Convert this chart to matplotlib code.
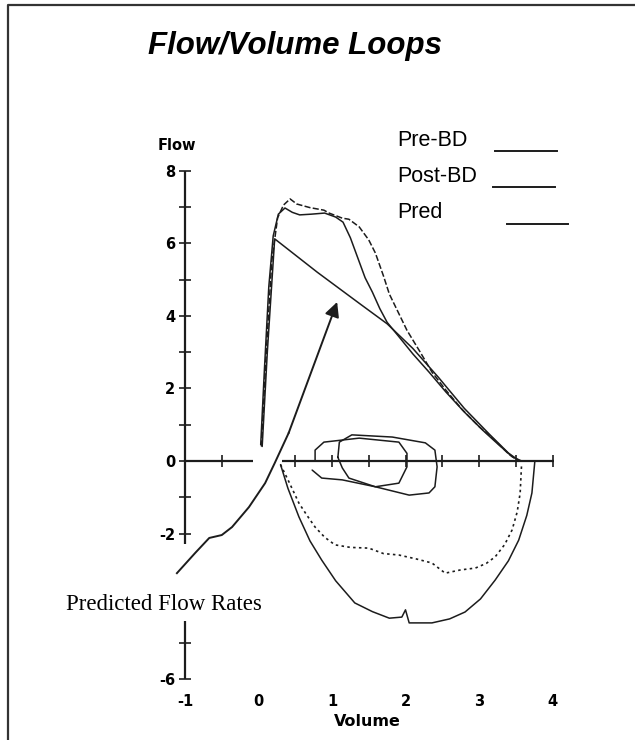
"""Flow/volume loops (pre- and post-bronchodilator against predicted)."""

import matplotlib

matplotlib.use("Agg")

import matplotlib.pyplot as plt
from matplotlib.lines import Line2D

W, H = 635, 740
INK = "#1c1c1c"

# expiratory limbs (volume L, flow L/s)
pre_exp_vol = [0.03, 0.08, 0.14, 0.20, 0.27, 0.36, 0.46, 0.56, 0.72, 0.90, 1.05, 1.15,
               1.25, 1.35, 1.45, 1.55, 1.65, 1.75, 1.90, 2.10, 2.32, 2.55, 2.80, 3.05,
               3.25, 3.45, 3.58]
pre_exp_flow = [0.45, 2.5, 4.8, 6.2, 6.8, 6.97, 6.85, 6.78, 6.80, 6.83, 6.72, 6.58,
                6.15, 5.60, 5.05, 4.65, 4.20, 3.82, 3.45, 2.95, 2.45, 1.90, 1.35, 0.85,
                0.48, 0.12, 0.0]

post_exp_vol = [0.04, 0.10, 0.18, 0.26, 0.34, 0.43, 0.52, 0.70, 0.89, 0.96, 1.14, 1.23,
                1.37, 1.50, 1.59, 1.70, 1.78, 1.90, 2.02, 2.20, 2.36, 2.55, 2.77, 3.00,
                3.20, 3.40, 3.52]
post_exp_flow = [0.40, 2.8, 5.5, 6.7, 7.05, 7.22, 7.08, 6.98, 6.91, 6.83, 6.69, 6.66,
                 6.45, 6.09, 5.73, 5.10, 4.60, 4.10, 3.60, 3.00, 2.45, 1.95, 1.42, 0.95,
                 0.60, 0.20, 0.02]

pred_vol = [0.05, 0.12, 0.22, 0.80, 1.40, 1.75, 2.10, 2.45, 2.80, 3.15, 3.40, 3.55]
pred_flow = [0.40, 3.0, 6.12, 5.20, 4.30, 3.78, 3.10, 2.30, 1.45, 0.72, 0.22, 0.0]

# inspiratory limbs
pre_insp_vol = [0.30, 0.40, 0.55, 0.70, 0.86, 1.05, 1.31, 1.55, 1.78, 1.95, 2.00, 2.05,
                2.36, 2.60, 2.81, 3.02, 3.22, 3.40, 3.54, 3.65, 3.72, 3.76]
pre_insp_flow = [-0.10, -0.75, -1.54, -2.20, -2.73, -3.30, -3.91, -4.15, -4.33, -4.30,
                 -4.10, -4.46, -4.46, -4.35, -4.16, -3.80, -3.28, -2.75, -2.18, -1.50,
                 -0.88, 0.0]

post_insp_vol = [0.30, 0.42, 0.55, 0.66, 0.77, 0.90, 1.04, 1.25, 1.50, 1.70, 1.91, 2.15,
                 2.36, 2.54, 2.75, 2.95, 3.10, 3.22, 3.35, 3.45, 3.52, 3.56, 3.58]
post_insp_flow = [-0.10, -0.60, -1.16, -1.50, -1.82, -2.10, -2.31, -2.38, -2.40, -2.55,
                  -2.59, -2.70, -2.81, -3.09, -3.00, -2.95, -2.82, -2.64, -2.30, -1.90,
                  -1.40, -0.88, -0.06]

# tidal breathing loops
tidal1_vol = [0.73, 0.86, 1.14, 1.59, 1.91, 2.02, 2.02, 1.91, 1.37, 0.89, 0.77, 0.77]
tidal1_flow = [-0.25, -0.47, -0.52, -0.71, -0.61, -0.16, 0.21, 0.52, 0.63, 0.52, 0.30, 0.0]
tidal2_vol = [1.08, 1.14, 1.23, 1.59, 2.05, 2.32, 2.40, 2.43, 2.40, 2.27, 1.82, 1.27, 1.10, 1.08]
tidal2_flow = [0.10, -0.19, -0.47, -0.71, -0.94, -0.88, -0.71, -0.16, 0.30, 0.50, 0.66,
               0.72, 0.52, 0.10]

# hand-drawn annotation arrow
arrow_vol = [-1.11, -0.86, -0.67, -0.50, -0.36, -0.13, 0.09, 0.22, 0.41, 1.07]
arrow_flow = [-3.09, -2.53, -2.12, -2.04, -1.82, -1.27, -0.61, -0.06, 0.77, 4.38]

y_major = [8, 6, 4, 2, 0, -2, -6]
y_minor = [7, 5, 3, 1, -1, -5]
x_ticks = [-0.5, 0.5, 1, 1.5, 2, 2.5, 3, 3.5, 4]
x_labels = [-1, 0, 1, 2, 3, 4]
legend_labels = ["Pre-BD", "Post-BD", "Pred"]


def fig_xy(px, py):
    return px / W, 1 - py / H


fig = plt.figure(figsize=(W / 100, H / 100), dpi=100)
fig.patch.set_facecolor("white")

# axes placed so that volume -1 sits at x=185px and flow 0 at y=461px
x_lo, x_hi, y_lo, y_hi = -2.0, 5.0, -6.1, 8.5
left = (185 + (x_lo + 1) * 73.5) / W
right = (185 + (x_hi + 1) * 73.5) / W
top = 1 - (461 - y_hi * 36.3) / H
bottom = 1 - (461 - y_lo * 36.3) / H
ax = fig.add_axes([left, bottom, right - left, top - bottom])
ax.set_xlim(x_lo, x_hi)
ax.set_ylim(y_lo, y_hi)
ax.patch.set_alpha(0)

line_kw = dict(color=INK, lw=1.1, solid_capstyle="round")
ax.plot(pre_exp_vol, pre_exp_flow, **line_kw)
ax.plot(pred_vol, pred_flow, **line_kw)
ax.plot(post_exp_vol, post_exp_flow, color=INK, lw=1.1, ls=(0, (4, 1.5)))
ax.plot(pre_insp_vol, pre_insp_flow, **line_kw)
ax.plot(post_insp_vol, post_insp_flow, color=INK, lw=1.2, ls=(0, (1.5, 2)))
ax.plot(tidal1_vol, tidal1_flow, **line_kw)
ax.plot(tidal2_vol, tidal2_flow, **line_kw)

ax.plot(arrow_vol[:-1], arrow_flow[:-1], color=INK, lw=1.4)
ax.annotate("", xy=(arrow_vol[-1], arrow_flow[-1]), xytext=(arrow_vol[-2], arrow_flow[-2]),
            arrowprops=dict(arrowstyle="-|>", color=INK, lw=1.4, mutation_scale=22,
                            shrinkA=0, shrinkB=0))

# broken axes as on the original printout
ax.vlines(-1, -2.3, 8.0, color=INK, lw=1.6)
ax.vlines(-1, -6.0, -4.4, color=INK, lw=1.6)
ax.hlines(0, -1.0, -0.08, color=INK, lw=1.6)
ax.hlines(0, 0.32, 4.02, color=INK, lw=1.6)

for side in ["top", "right"]:
    ax.spines[side].set_visible(False)
ax.spines["left"].set_position(("data", -1))
ax.spines["bottom"].set_position(("data", 0))
ax.spines["left"].set_color("none")
ax.spines["bottom"].set_color("none")

ax.set_yticks(y_major)
ax.set_yticks(y_minor, minor=True)
ax.set_yticklabels([str(v) for v in y_major], fontsize=10.5, fontweight="bold")
ax.tick_params(axis="y", which="both", direction="inout", length=8, width=1.2,
               color=INK, pad=3)
ax.set_xticks(x_ticks)
ax.tick_params(axis="x", direction="inout", length=8, width=1.2, color=INK,
               labelbottom=False)

secax = ax.secondary_xaxis("bottom")
secax.set_xticks(x_labels)
secax.set_xticklabels([str(v) for v in x_labels], fontsize=10.5, fontweight="bold")
secax.tick_params(length=0, pad=8)
secax.spines["bottom"].set_visible(False)

fig.text(*fig_xy(367, 721), "Volume", ha="center", va="center", fontsize=11.5,
         fontweight="bold")
fig.text(*fig_xy(177, 145), "Flow", ha="center", va="center", fontsize=10.5,
         fontweight="bold")
fig.text(*fig_xy(164, 604), "Predicted Flow Rates", ha="center", va="center",
         fontsize=16.5, family="Liberation Serif")
fig.text(*fig_xy(295, 46), "Flow/Volume Loops", ha="center", va="center", fontsize=22.5,
         fontweight="bold", style="italic", family="Liberation Sans")

# hand-placed key
label_pos = [(397, 141), (397, 177), (397, 213)]
key_lines = [((495, 557), 151), ((493, 555), 187), ((507, 568), 224)]
for label, (lx, ly), ((x0, x1), yl) in zip(legend_labels, label_pos, key_lines):
    fig.text(*fig_xy(lx, ly), label, ha="left", va="center", fontsize=15.5,
             family="Liberation Sans")
    p0, p1 = fig_xy(x0, yl), fig_xy(x1, yl)
    fig.add_artist(Line2D([p0[0], p1[0]], [p0[1], p1[1]], transform=fig.transFigure,
                          color=INK, lw=1.4))

# scanned page frame (left and top edges)
fig.add_artist(Line2D([8 / W, 8 / W, 1], [0, 1 - 5 / H, 1 - 5 / H],
                      transform=fig.transFigure, color="#333333", lw=1.6))

fig.savefig("out.png", dpi=100, facecolor="white")
